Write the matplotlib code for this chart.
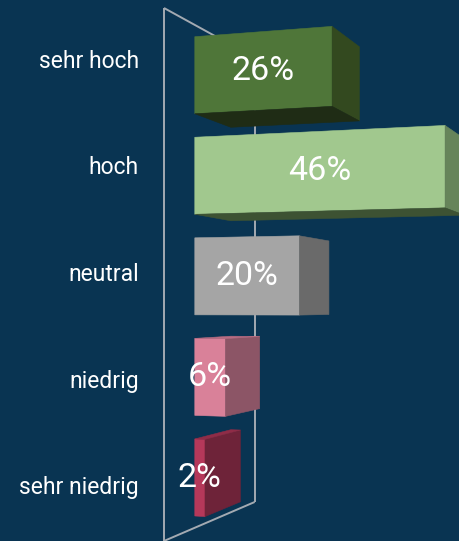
import matplotlib.pyplot as plt
from matplotlib.patches import Polygon

kategorien = ["sehr hoch", "hoch", "neutral", "niedrig", "sehr niedrig"]
anteile = [26, 46, 20, 6, 2]
beschriftungen = ["26%", "46%", "20%", "6%", "2%"]

farben_vorne = ["#4f7639", "#a1c88e", "#a5a5a5", "#d98199", "#b5385a"]
farben_seite = ["#33491f", "#66845a", "#6a6a6a", "#8c5566", "#6e2339"]
farben_deckel = ["#1f2c15", "#3d5233", "#4b4b4b", "#b86c82", "#8f2c47"]

hintergrund = "#093452"
wandfarbe = "#a3aab2"

# Perspektive: Fluchtpunkt der Tiefe und der Werteachse (Pixel)
FP_TIEFE = (708, 307)
FP_WERT_X = -3400
TIEFE = 0.2          # Verkleinerung der Rückwand
PX_PRO_PROZENT = 5.1
WAND_X = 164
OBEN, UNTEN = 8, 541
LUECKE = 0.234
Z_VORNE, Z_HINTEN = 0.3, 0.7


def projektion(x, y, z):
    a = PX_PRO_PROZENT / FP_WERT_X
    w = 1 + TIEFE * z + a * x
    u = (WAND_X + FP_TIEFE[0] * TIEFE * z + PX_PRO_PROZENT * x) / w
    v = (y + FP_TIEFE[1] * TIEFE * z + FP_TIEFE[1] * a * x) / w
    return u, v


def flaeche(punkte):
    s = 0
    for i in range(len(punkte)):
        x1, y1 = punkte[i]
        x2, y2 = punkte[(i + 1) % len(punkte)]
        s += x1 * y2 - x2 * y1
    return s / 2


fig = plt.figure(figsize=(4.59, 5.41), dpi=100)
fig.patch.set_facecolor(hintergrund)
ax = fig.add_axes([0, 0, 1, 1])
ax.set_facecolor(hintergrund)
ax.set_xlim(0, 459)
ax.set_ylim(541, 0)
ax.axis("off")

# Wand an der Nulllinie
ecken = [projektion(0, OBEN, 0), projektion(0, OBEN, 1),
         projektion(0, UNTEN, 1), projektion(0, UNTEN, 0)]
for a, b in [(0, 1), (1, 2), (2, 3), (3, 0)]:
    ax.plot([ecken[a][0], ecken[b][0]], [ecken[a][1], ecken[b][1]],
            color=wandfarbe, lw=1.4, zorder=1, solid_capstyle="butt")

schritt = (UNTEN - OBEN) / len(kategorien)
for i, (name, wert) in enumerate(zip(kategorien, anteile)):
    mitte = OBEN + (i + 0.5) * schritt
    y0 = mitte - (1 - LUECKE) / 2 * schritt
    y1 = mitte + (1 - LUECKE) / 2 * schritt
    x0, x1 = 0, wert
    z0, z1 = Z_VORNE, Z_HINTEN

    seiten = {
        "vorne": [(x0, y0, z0), (x0, y1, z0), (x1, y1, z0), (x1, y0, z0)],
        "rechts": [(x1, y0, z0), (x1, y1, z0), (x1, y1, z1), (x1, y0, z1)],
        "links": [(x0, y0, z0), (x0, y0, z1), (x0, y1, z1), (x0, y1, z0)],
        "unten": [(x0, y1, z0), (x0, y1, z1), (x1, y1, z1), (x1, y1, z0)],
        "oben": [(x0, y0, z0), (x1, y0, z0), (x1, y0, z1), (x0, y0, z1)],
    }
    farbe = {"vorne": farben_vorne[i], "rechts": farben_seite[i],
             "links": farben_seite[i], "unten": farben_deckel[i],
             "oben": farben_deckel[i]}
    vorzeichen = flaeche([projektion(*p) for p in seiten["vorne"]]) > 0
    for seite, punkte in seiten.items():
        pts = [projektion(*p) for p in punkte]
        if (flaeche(pts) > 0) != vorzeichen:
            continue
        ax.add_patch(Polygon(pts, closed=True, facecolor=farbe[seite],
                             edgecolor=farbe[seite], lw=0.4, zorder=2))

    front = [projektion(*p) for p in seiten["vorne"]]
    cx = sum(p[0] for p in front) / 4
    cy = sum(p[1] for p in front) / 4
    ax.text(cx, cy, beschriftungen[i], ha="center", va="center",
            color="white", fontsize=24.5, family="Roboto", zorder=3)

    ax.text(139, projektion(0, mitte, 0)[1], name, ha="right", va="center",
            color="white", fontsize=16.5, family="Roboto", zorder=3)

fig.savefig("out.png", dpi=100, facecolor=hintergrund)
